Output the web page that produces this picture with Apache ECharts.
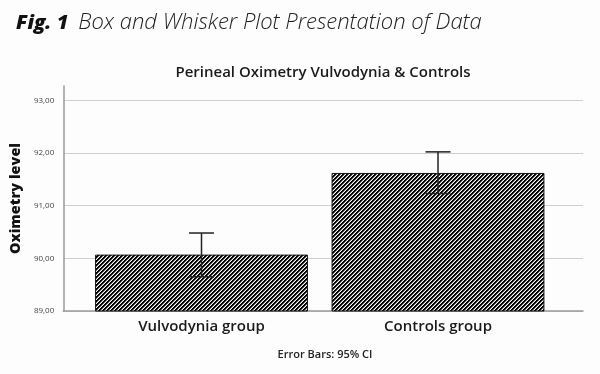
<!DOCTYPE html>
<html>
<head>
<meta charset="utf-8">
<script src="https://cdn.jsdelivr.net/npm/echarts@6/dist/echarts.min.js"></script>
<style>
html,body{margin:0;padding:0;background:#fdfdfd;}
#chart{width:600px;height:374px;}
</style>
</head>
<body>
<div id="chart"></div>
<script>
// ---- data ----
const categories = ['Vulvodynia group', 'Controls group'];
const meanValues = [90.07, 91.62];
const ciLow = [89.65, 91.23];
const ciHigh = [90.48, 92.02];
const yTicks = [89, 90, 91, 92, 93];

// ---- hatch pattern ----
function makeHatch() {
  const n = 4;
  const c = document.createElement('canvas');
  c.width = n; c.height = n;
  const ctx = c.getContext('2d');
  ctx.fillStyle = '#ffffff';
  ctx.fillRect(0, 0, n, n);
  for (let x = 0; x < n; x++) {
    for (let y = 0; y < n; y++) {
      const k = (x + y) % 4;
      if (k < 2) { ctx.fillStyle = '#000000'; ctx.fillRect(x, y, 1, 1); }
      else if (k === 2) { ctx.fillStyle = '#7a7a7a'; ctx.fillRect(x, y, 1, 1); }
    }
  }
  return c;
}

const chart = echarts.init(document.getElementById('chart'), null, {renderer: 'canvas'});
const fam = '"Open Sans", Lato, sans-serif';
const yMin = 89, yMax = 93.27;

const option = {
  backgroundColor: '#fdfdfd',
  animation: false,
  title: [
    {
      text: '{a|Fig. 1}  {b|Box and Whisker Plot Presentation of Data}',
      left: 11, top: 7,
      textStyle: {
        rich: {
          a: {fontFamily: fam, fontSize: 20, fontWeight: 800, fontStyle: 'italic', color: '#111'},
          b: {fontFamily: fam, fontSize: 22, fontWeight: 300, fontStyle: 'italic', color: '#222'}
        }
      }
    },
    {
      text: 'Perineal Oximetry Vulvodynia & Controls',
      left: 318, top: 60, textAlign: 'center',
      textStyle: {fontFamily: fam, fontSize: 15, fontWeight: 600, color: '#1a1a1a'}
    },
    {
      text: 'Error Bars: 95% CI',
      left: 320, top: 344, textAlign: 'center',
      textStyle: {fontFamily: fam, fontSize: 11, fontWeight: 600, color: '#222'}
    }
  ],
  grid: [
    {left: 57, right: 17, top: 86, bottom: 63},
    {left: 83.25, right: 43.75, top: 86, bottom: 63}
  ],
  xAxis: [
    {
      gridIndex: 0, type: 'category', data: categories,
      axisLine: {show: true, lineStyle: {color: '#9a9a9a', width: 1.5}},
      axisTick: {show: false}, axisLabel: {show: false}, splitLine: {show: false}
    },
    {
      gridIndex: 1, type: 'category', data: categories,
      axisLine: {show: false}, axisTick: {show: false},
      axisLabel: {margin: 8, fontFamily: fam, fontSize: 15, fontWeight: 600, color: '#1a1a1a'}
    }
  ],
  yAxis: [
    {
      gridIndex: 0, type: 'value', min: yMin, max: yMax, interval: 1,
      name: 'Oximetry level', nameLocation: 'middle', nameGap: 30,
      nameTextStyle: {fontFamily: fam, fontSize: 14.5, fontWeight: 800, color: '#111'},
      axisLine: {show: true, lineStyle: {color: '#9a9a9a', width: 1.5}},
      axisTick: {show: false},
      axisLabel: {
        margin: 9, fontFamily: fam, fontSize: 8, color: '#444', showMaxLabel: false,
        formatter: function (v) {
          const t = yTicks.find(function (k) { return Math.abs(k - v) < 1e-6; });
          return t === undefined ? '' : t.toFixed(2).replace('.', ',');
        }
      },
      splitLine: {show: true, showMaxLine: false, lineStyle: {color: '#cfcfcf', width: 1.2}}
    },
    {
      gridIndex: 1, type: 'value', min: yMin, max: yMax, interval: 1,
      show: false, splitLine: {show: false}
    }
  ],
  series: [
    {
      type: 'bar', xAxisIndex: 1, yAxisIndex: 1,
      data: meanValues, barWidth: '90%',
      itemStyle: {
        color: {image: makeHatch(), repeat: 'repeat'},
        borderColor: '#111', borderWidth: 1
      },
      z: 2
    },
    {
      type: 'custom', xAxisIndex: 1, yAxisIndex: 1, z: 5,
      data: categories.map(function (c, i) { return [i, ciLow[i], ciHigh[i]]; }),
      encode: {x: 0, y: [1, 2]},
      renderItem: function (params, api) {
        const i = api.value(0);
        const lo = api.coord([i, api.value(1)]);
        const hi = api.coord([i, api.value(2)]);
        const hw = 12.5;
        const st = {stroke: '#222', lineWidth: 1.5};
        return {
          type: 'group',
          children: [
            {type: 'line', shape: {x1: hi[0], y1: hi[1], x2: lo[0], y2: lo[1]}, style: st},
            {type: 'line', shape: {x1: hi[0] - hw, y1: hi[1], x2: hi[0] + hw, y2: hi[1]}, style: st},
            {type: 'line', shape: {x1: lo[0] - hw, y1: lo[1], x2: lo[0] + hw, y2: lo[1]}, style: st}
          ]
        };
      }
    }
  ]
};
chart.setOption(option);
</script>
</body>
</html>
